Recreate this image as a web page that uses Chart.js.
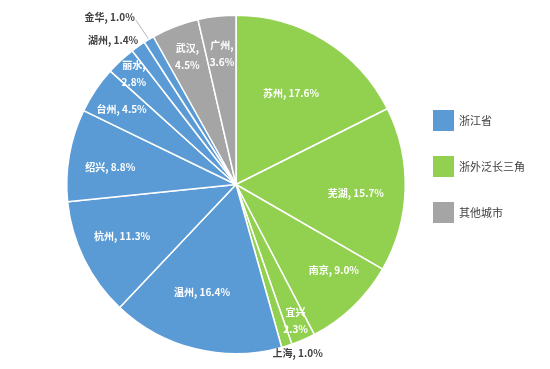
<!DOCTYPE html>
<html>
<head>
<meta charset="utf-8">
<script src="https://cdn.jsdelivr.net/npm/chart.js@4/dist/chart.umd.min.js"></script>
<style>
html,body{margin:0;padding:0;background:#fff;}
#wrap{width:550px;height:369px;position:relative;}
</style>
</head>
<body>
<div id="wrap"><canvas id="c" width="550" height="369"></canvas></div>
<script>
// ---- data ----
const categories = ['苏州','芜湖','南京','宜兴','上海','温州','杭州','绍兴','台州','丽水','湖州','金华','武汉','广州'];
const shares     = [17.6, 15.7, 9.0, 2.3, 1.0, 16.4, 11.3, 8.8, 4.5, 2.8, 1.4, 1.0, 4.5, 3.6];
const groupOf    = [1, 1, 1, 1, 1, 0, 0, 0, 0, 0, 0, 0, 2, 2];
const groups     = ['浙江省', '浙外泛长三角', '其他城市'];

// ---- styling / label placement (not data) ----
const groupColors = ['#5b9bd5', '#92d050', '#a5a5a5'];
// [fraction along slice angle, radius factor, mode] mode: 0 inline, 1 two-line, 2 outside, 3 outside with leader
const labelPlace = [
  [0.49, 0.63, 0], [0.54, 0.71, 0], [0.35, 0.77, 0], [0.48, 0.88, 1], [-0.23, 1.06, 2],
  [0.56, 0.67, 0], [0.54, 0.74, 0], [0.43, 0.75, 0], [0.47, 0.81, 0], [0.52, 0.89, 1],
  [-0.51, 1.12, 2], [-1.17, 1.24, 3], [0.52, 0.81, 1], [0.53, 0.78, 1]
];
const noComma = {'宜兴': true};

const FONT = '"Noto Sans CJK SC", "Noto Sans", sans-serif';

const labelPlugin = {
  id: 'sliceLabels',
  afterDatasetsDraw(chart) {
    const ctx = chart.ctx;
    const meta = chart.getDatasetMeta(0);
    ctx.save();
    ctx.font = 'bold 10px ' + FONT;
    ctx.textAlign = 'center';
    ctx.textBaseline = 'middle';
    meta.data.forEach((arc, i) => {
      const p = arc.getProps(['x','y','startAngle','endAngle','outerRadius'], true);
      const [fr, rf, mode] = labelPlace[i];
      const a = p.startAngle + (p.endAngle - p.startAngle) * fr;
      const r = p.outerRadius * rf;
      const x = p.x + Math.cos(a) * r;
      const y = p.y + Math.sin(a) * r;
      const val = shares[i].toFixed(1) + '%';
      if (mode === 1) {
        ctx.fillStyle = '#ffffff';
        ctx.fillText(categories[i] + (noComma[categories[i]] ? '' : ','), x, y - 8.5);
        ctx.fillText(val, x, y + 8.5);
      } else if (mode === 0) {
        ctx.fillStyle = '#ffffff';
        ctx.fillText(categories[i] + ', ' + val, x, y);
      } else {
        ctx.fillStyle = '#404040';
        const txt = categories[i] + ', ' + val;
        ctx.fillText(txt, x, y);
        if (mode === 3) {
          const w = ctx.measureText(txt).width;
          const mid = (p.startAngle + p.endAngle) / 2;
          ctx.strokeStyle = '#a6a6a6';
          ctx.lineWidth = 0.8;
          ctx.beginPath();
          ctx.moveTo(x + w / 2 + 1, y + 3);
          ctx.lineTo(p.x + Math.cos(mid) * (p.outerRadius + 1), p.y + Math.sin(mid) * (p.outerRadius + 1));
          ctx.stroke();
        }
      }
    });
    // legend
    ctx.font = '11px ' + FONT;
    ctx.textAlign = 'left';
    groups.forEach((g, k) => {
      const top = 110 + k * 46;
      ctx.fillStyle = groupColors[k];
      ctx.fillRect(433, top, 21, 21);
      ctx.fillStyle = '#404040';
      ctx.fillText(g, 459, top + 11);
    });
    ctx.restore();
  }
};

new Chart(document.getElementById('c'), {
  type: 'pie',
  data: {
    labels: categories,
    datasets: [{
      data: shares,
      backgroundColor: groupOf.map(g => groupColors[g]),
      borderColor: '#ffffff',
      borderWidth: 1.5
    }]
  },
  options: {
    responsive: false,
    animation: false,
    layout: { padding: { left: 66, right: 144, top: 14, bottom: 14 } },
    plugins: { legend: { display: false }, tooltip: { enabled: false } }
  },
  plugins: [labelPlugin]
});
</script>
</body>
</html>
